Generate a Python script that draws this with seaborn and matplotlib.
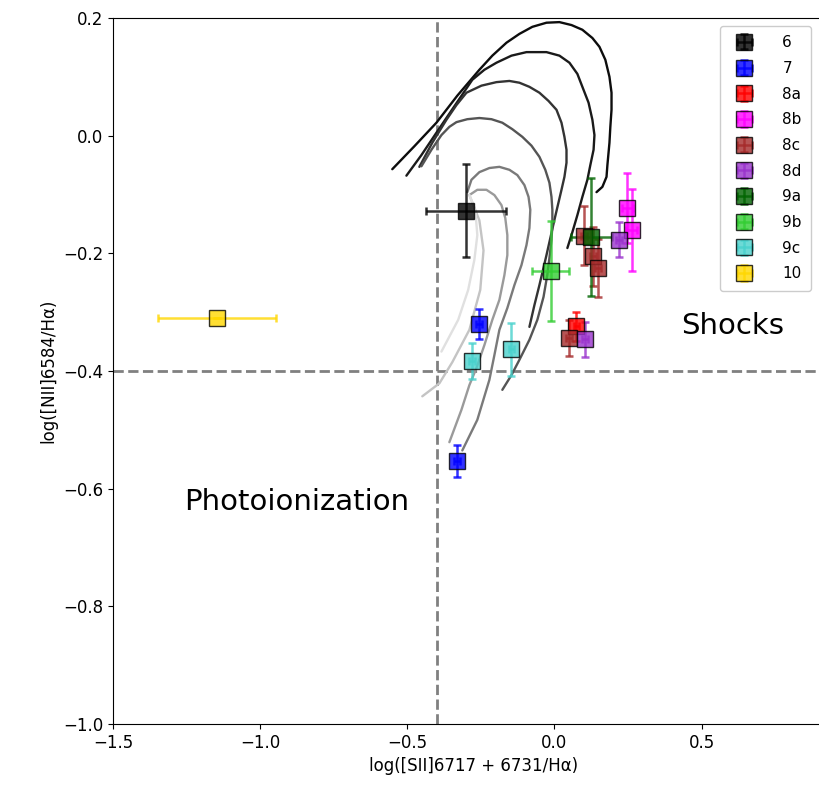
import matplotlib
matplotlib.use("Agg")
import matplotlib.pyplot as plt
import numpy as np
import pandas as pd
import seaborn as sns

# shock model tracks (data coordinates)
track_x = [
    [-0.551, -0.476, -0.401, -0.330, -0.255, -0.211, -0.163, -0.119, -0.075, -0.027, 0.017, 0.058, 0.095,
     0.129, 0.153, 0.173, 0.187, 0.194, 0.194, 0.190, 0.187, 0.180, 0.177, 0.163, 0.143],
    [-0.503, -0.452, -0.401, -0.340, -0.279, -0.238, -0.197, -0.146, -0.095, -0.027, 0.017, 0.051, 0.078,
     0.095, 0.116, 0.129, 0.136, 0.133, 0.122, 0.112, 0.095, 0.078, 0.061, 0.044],
    [-0.459, -0.415, -0.367, -0.333, -0.299, -0.248, -0.197, -0.153, -0.119, -0.085, -0.051, -0.020, 0.007,
     0.024, 0.034, 0.041, 0.041, 0.034, 0.024, 0.000, -0.027, -0.051, -0.068, -0.085],
    [-0.452, -0.418, -0.384, -0.357, -0.333, -0.296, -0.255, -0.214, -0.177, -0.143, -0.109, -0.078, -0.051,
     -0.031, -0.017, -0.010, -0.007, -0.007, -0.010, -0.017, -0.024, -0.037, -0.058, -0.085, -0.119, -0.146,
     -0.177],
    [-0.296, -0.282, -0.255, -0.221, -0.187, -0.153, -0.126, -0.102, -0.088, -0.082, -0.085, -0.095, -0.112,
     -0.136, -0.160, -0.187, -0.204, -0.221, -0.262, -0.313],
    [-0.289, -0.262, -0.231, -0.204, -0.180, -0.167, -0.160, -0.160, -0.170, -0.187, -0.211, -0.238, -0.265,
     -0.289, -0.316, -0.357],
    [-0.289, -0.255, -0.241, -0.252, -0.289, -0.347, -0.391, -0.449],
    [-0.289, -0.269, -0.262, -0.272, -0.293, -0.327, -0.384],
]
track_y = [
    [-0.057, -0.018, 0.022, 0.068, 0.112, 0.136, 0.158, 0.173, 0.185, 0.192, 0.193, 0.188, 0.180,
     0.166, 0.151, 0.129, 0.100, 0.073, 0.044, 0.015, -0.012, -0.050, -0.070, -0.087, -0.096],
    [-0.068, -0.033, 0.005, 0.050, 0.095, 0.112, 0.124, 0.136, 0.142, 0.142, 0.136, 0.124, 0.105,
     0.083, 0.056, 0.027, 0.001, -0.024, -0.050, -0.075, -0.104, -0.135, -0.164, -0.191],
    [-0.053, -0.012, 0.027, 0.052, 0.073, 0.085, 0.091, 0.093, 0.090, 0.083, 0.073, 0.059, 0.044,
     0.022, -0.002, -0.024, -0.046, -0.070, -0.092, -0.143, -0.203, -0.254, -0.288, -0.325],
    [-0.052, -0.024, 0.001, 0.015, 0.023, 0.028, 0.030, 0.028, 0.022, 0.011, -0.002, -0.017, -0.036,
     -0.058, -0.080, -0.104, -0.126, -0.152, -0.177, -0.208, -0.236, -0.274, -0.313, -0.347, -0.381, -0.407,
     -0.432],
    [-0.096, -0.075, -0.062, -0.055, -0.053, -0.058, -0.067, -0.084, -0.104, -0.126, -0.157, -0.186, -0.220,
     -0.254, -0.293, -0.330, -0.373, -0.415, -0.483, -0.535],
    [-0.101, -0.092, -0.092, -0.101, -0.118, -0.140, -0.169, -0.203, -0.237, -0.279, -0.313, -0.356, -0.395,
     -0.424, -0.466, -0.521],
    [-0.101, -0.144, -0.195, -0.262, -0.330, -0.385, -0.421, -0.443],
    [-0.101, -0.126, -0.169, -0.211, -0.262, -0.313, -0.367],
]
track_shade = ['#0d0d0d', '#1a1a1a', '#333333', '#555555', '#7a7a7a', '#9a9a9a', '#c4c4c4', '#e0e0e0']

# observed regions
labels = ['6', '7', '8a', '8b', '8c', '8d', '9a', '9b', '9c', '10']
colors = ['black', 'blue', 'red', 'magenta', 'brown', 'darkorchid',
          'darkgreen', 'limegreen', 'mediumturquoise', 'gold']
sii = [[-0.300], [-0.255, -0.330], [0.075], [0.248, 0.262],
       [0.100, 0.130, 0.148, 0.050], [0.220, 0.105], [0.125], [-0.013],
       [-0.280, -0.146], [-1.146]]
nii = [[-0.128], [-0.320, -0.553], [-0.324], [-0.123, -0.160],
       [-0.170, -0.205, -0.225, -0.344], [-0.177, -0.346], [-0.172], [-0.230],
       [-0.383, -0.363], [-0.310]]
sii_err = [[0.137], [0.010, 0.010], [0.010], [0.020, 0.020],
           [0.010, 0.010, 0.010, 0.010], [0.010, 0.010], [0.070], [0.063],
           [0.010, 0.010], [0.200]]
nii_err = [[0.079], [0.025, 0.028], [0.025], [0.060, 0.070],
           [0.050, 0.050, 0.050, 0.030], [0.030, 0.030], [0.100], [0.085],
           [0.030, 0.045], [0.0]]

sns.set_style('ticks', {'axes.edgecolor': 'black', 'xtick.color': 'black',
                        'ytick.color': 'black', 'text.color': 'black',
                        'axes.labelcolor': 'black'})
fig = plt.figure(figsize=(8.19, 7.91), dpi=100)
ax = fig.add_axes([113 / 819, 1 - 724 / 791, (834 - 113) / 819, (724 - 18) / 791])

for i in range(len(track_x)):
    df = pd.DataFrame({'x': track_x[i], 'y': track_y[i]})
    sns.lineplot(data=df, x='x', y='y', sort=False, estimator=None,
                 color=track_shade[i], lw=1.7, ax=ax)

ax.axvline(-0.4, color='gray', ls='--', lw=2, zorder=1)
ax.axhline(-0.4, color='gray', ls='--', lw=2, zorder=1)

handles = []
for i, lab in enumerate(labels):
    h = ax.errorbar(sii[i], nii[i], xerr=sii_err[i], yerr=nii_err[i],
                    fmt='s', color=colors[i], mfc=colors[i], mec='black',
                    ms=12, alpha=0.8, capsize=3, elinewidth=1.8, capthick=1.8,
                    label=lab, zorder=3)
    handles.append(h)

ax.text(0.605, -0.324, 'Shocks', fontsize=21, ha='center', va='center')
ax.text(-0.877, -0.623, 'Photoionization', fontsize=21, ha='center', va='center')

ax.set_xlim(-1.5, 0.95)
ax.set_ylim(-1.0, 0.2)
ax.set_xticks([-1.5, -1.0, -0.5, 0.0, 0.5])
ax.set_yticks(np.round(np.arange(-1.0, 0.21, 0.2), 1))
ax.tick_params(labelsize=12)
ax.set_xlabel('log([SII]6717 + 6731/Hα)', fontsize=12)
ax.set_ylabel('log([NII]6584/Hα)', fontsize=12)

fig.legend(handles=handles, loc='upper right',
           bbox_to_anchor=(811 / 819, 1 - 26 / 791),
           fontsize=11, labelspacing=0.7, borderaxespad=0, framealpha=1,
           handletextpad=1.5, borderpad=0.6)

fig.savefig('out.png', dpi=100)
